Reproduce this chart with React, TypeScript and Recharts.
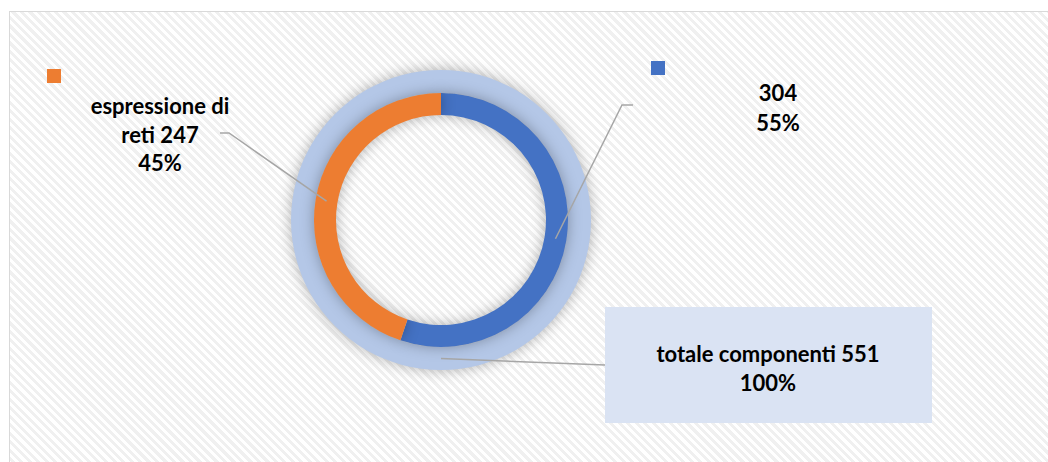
import { PieChart, Pie, Cell } from 'recharts';

const totalNames = ['totale componenti'];
const totalValues = [551];
const totalLabels = ['100%'];

const partNames = ['', 'espressione di reti'];
const partValues = [304, 247];
const partPercents = ['55%', '45%'];
const partColours = ['#4472c4', '#ed7d31'];

const RADIAN = Math.PI / 180;
const FONT = 'Lato, "Open Sans", sans-serif';
const FONT_SIZE = 22;

const totalData = totalNames.map((name, i) => ({ name, value: totalValues[i], pct: totalLabels[i] }));
const partData = partNames.map((name, i) => ({ name, value: partValues[i], pct: partPercents[i] }));

// where each data label box sits (dragged by hand in the original)
const partLabelPos = [
  { x: 778, lines: [92, 122], anchor: { x: 633, y: 105 }, elbow: { x: 622, y: 105 }, key: { x: 651, y: 61 } },
  { x: 160, lines: [105, 134, 162], anchor: { x: 220, y: 133 }, elbow: { x: 229, y: 133 }, key: { x: 47, y: 69 } },
];

function pointAt(cx: number, cy: number, r: number, angle: number) {
  return { x: cx + r * Math.cos(-angle * RADIAN), y: cy + r * Math.sin(-angle * RADIAN) };
}

function PartLabel(props: any) {
  const { cx, cy, midAngle, innerRadius, outerRadius, index, value, payload } = props;
  const p = partLabelPos[index];
  const end = pointAt(cx, cy, (innerRadius + outerRadius) / 2, midAngle);
  const text = index === 1 ? ['espressione di', `reti ${value}`, payload.pct] : [`${value}`, payload.pct];
  return (
    <g>
      <polyline
        points={`${p.anchor.x},${p.anchor.y} ${p.elbow.x},${p.elbow.y} ${end.x},${end.y}`}
        fill="none"
        stroke="#a6a6a6"
        strokeWidth={1.5}
      />
      <rect x={p.key.x} y={p.key.y} width={14} height={14} fill={partColours[index]} />
      {text.map((t, i) => (
        <text
          key={i}
          x={p.x}
          y={p.lines[i]}
          textAnchor="middle"
          dominantBaseline="central"
          fontFamily={FONT}
          fontWeight={700}
          fontSize={FONT_SIZE}
          fill="#000"
        >
          {t}
        </text>
      ))}
    </g>
  );
}

function TotalLabel(props: any) {
  const { cx, cy, midAngle, innerRadius, outerRadius, value, payload } = props;
  const end = pointAt(cx, cy, (innerRadius + outerRadius) / 2, midAngle);
  return (
    <g>
      <line x1={end.x} y1={end.y} x2={605} y2={365} stroke="#a6a6a6" strokeWidth={1.5} />
      <rect x={605} y={307} width={327} height={116} fill="#dae3f3" />
      <text x={768} y={353} textAnchor="middle" dominantBaseline="central" fontFamily={FONT} fontWeight={700} fontSize={FONT_SIZE} fill="#000">
        {`${payload.name} ${value}`}
      </text>
      <text x={768} y={382} textAnchor="middle" dominantBaseline="central" fontFamily={FONT} fontWeight={700} fontSize={FONT_SIZE} fill="#000">
        {payload.pct}
      </text>
    </g>
  );
}

export default function App() {
  return (
    <div style={{ position: 'absolute', left: 0, top: 0, width: 1048, height: 462, background: '#fff', overflow: 'hidden' }}>
      <style>{`.ring-shadow .recharts-pie-sector { filter: drop-shadow(0 0 7px rgba(0,0,0,0.3)); }`}</style>
      <div
        style={{
          position: 'absolute',
          left: 9,
          top: 11,
          width: 1060,
          height: 470,
          border: '1.5px solid #d9d9d9',
          background: 'repeating-linear-gradient(45deg, #ffffff 0px, #ffffff 3px, #f0f0f0 3px, #f0f0f0 6px)',
        }}
      />
      <div style={{ position: 'absolute', left: 0, top: 0 }}>
        <PieChart width={1048} height={462} margin={{ top: 0, right: 0, bottom: 0, left: 0 }}>
          <Pie
            className="ring-shadow"
            data={totalData}
            dataKey="value"
            cx={441}
            cy={220}
            innerRadius={127}
            outerRadius={150}
            startAngle={90}
            endAngle={-270}
            stroke="none"
            fill="#b4c7e7"
            label={TotalLabel}
            labelLine={false}
            isAnimationActive={false}
          />
          <Pie
            className="ring-shadow"
            data={partData}
            dataKey="value"
            cx={441}
            cy={220}
            innerRadius={105}
            outerRadius={127}
            startAngle={90}
            endAngle={-270}
            stroke="none"
            label={PartLabel}
            labelLine={false}
            isAnimationActive={false}
          >
            {partData.map((d, i) => (
              <Cell key={d.name + i} fill={partColours[i]} />
            ))}
          </Pie>
        </PieChart>
      </div>
    </div>
  );
}
